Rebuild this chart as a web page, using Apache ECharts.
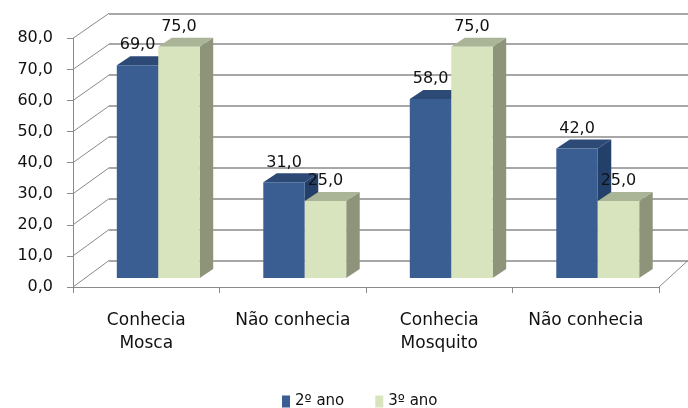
<!DOCTYPE html>
<html>
<head>
<meta charset="utf-8">
<script src="https://cdn.jsdelivr.net/npm/echarts@6/dist/echarts.min.js"></script>
<style>
  html, body { margin: 0; padding: 0; background: #fff; }
  #chart { width: 688px; height: 408px; }
</style>
</head>
<body>
<div id="chart"></div>
<script>
// Categories and values per school year
const CATEGORIES = ['Conhecia\nMosca', 'Não conhecia', 'Conhecia\nMosquito', 'Não conhecia'];
const SERIES_NAMES = ['2º ano', '3º ano'];
const VALUES_2ANO = [69.0, 31.0, 58.0, 42.0];
const VALUES_3ANO = [75.0, 25.0, 75.0, 25.0];
const Y_TICKS = [0, 10, 20, 30, 40, 50, 60, 70, 80];

// Pseudo-3D look: depth offset of the columns and face colours
const DEPTH = [13.5, -9];
const BAR_FRAC = 0.283;
const FACE = [
  { front: '#3a5e91', top: '#2c4a75', side: '#23406a' },
  { front: '#d8e4bd', top: '#a9b596', side: '#8d947a' }
];
const FONT = 'DejaVu Sans';
const GRID_COLOR = '#8a8a8a';

const fmt = v => v.toFixed(1).replace('.', ',');

function columnRenderer(side) {
  return function (params, api) {
    const ci = api.value(0);
    const v = api.value(1);
    const base = api.coord([ci, 0]);
    const top = api.coord([ci, v]);
    const band = api.size([1, 0])[0];
    const w = band * BAR_FRAC;
    const x0 = side === 0 ? base[0] - w : base[0];
    const x1 = x0 + w;
    const yT = top[1], yB = base[1];
    const dx = DEPTH[0], dy = DEPTH[1];
    const c = FACE[side];
    return {
      type: 'group',
      children: [
        { type: 'polygon', shape: { points: [[x1, yT], [x1 + dx, yT + dy], [x1 + dx, yB + dy], [x1, yB]] },
          style: { fill: c.side } },
        { type: 'polygon', shape: { points: [[x0, yT], [x1, yT], [x1 + dx, yT + dy], [x0 + dx, yT + dy]] },
          style: { fill: c.top } },
        { type: 'rect', shape: { x: x0, y: yT, width: w, height: yB - yT },
          style: { fill: c.front } },
        { type: 'text', x: (x0 + x1) / 2, y: yT - 20,
          style: { text: fmt(v), fill: '#111', font: '16px "' + FONT + '"',
                   align: 'center', verticalAlign: 'middle' } }
      ]
    };
  };
}

const chart = echarts.init(document.getElementById('chart'), null, { renderer: 'canvas' });

const option = {
  animation: false,
  backgroundColor: '#fff',
  textStyle: { fontFamily: FONT },
  legend: {
    data: SERIES_NAMES,
    left: 277, top: 389,
    icon: 'rect', itemWidth: 8, itemHeight: 12, itemGap: 31,
    textStyle: { fontFamily: FONT, fontSize: 15, color: '#111' }
  },
  grid: [
    // front plane: axes and labels
    { left: 73, right: 29, top: 38.3, bottom: 121 },
    // column front faces
    { left: 85, right: 17, top: 31.2, bottom: 130 },
    // back wall
    { left: 109, right: -7, top: 13.3, bottom: 147.5 }
  ],
  xAxis: [
    { type: 'category', gridIndex: 0, data: CATEGORIES, boundaryGap: true,
      axisLine: { show: true, lineStyle: { color: GRID_COLOR, width: 1 } },
      axisTick: { show: true, length: 6, lineStyle: { color: GRID_COLOR } },
      axisLabel: { fontFamily: FONT, fontSize: 17, lineHeight: 23, color: '#111', margin: 22, interval: 0 },
      splitLine: { show: false } },
    { type: 'category', gridIndex: 1, data: CATEGORIES, show: false },
    { type: 'category', gridIndex: 2, data: CATEGORIES, show: false }
  ],
  yAxis: [
    { type: 'value', gridIndex: 0, min: 0, max: 80, interval: 10,
      axisLine: { show: true, lineStyle: { color: GRID_COLOR, width: 1 } },
      axisTick: { show: true, length: 6, lineStyle: { color: GRID_COLOR } },
      axisLabel: { fontFamily: FONT, fontSize: 16, color: '#111', margin: 20, formatter: v => fmt(v) },
      splitLine: { show: false } },
    { type: 'value', gridIndex: 1, min: 0, max: 80, interval: 10, show: false, splitLine: { show: false } },
    { type: 'value', gridIndex: 2, min: 0, max: 80, interval: 10,
      axisLine: { show: false }, axisTick: { show: false }, axisLabel: { show: false },
      splitLine: { show: true, lineStyle: { color: GRID_COLOR, width: 1.5 } } }
  ],
  series: [
    { name: SERIES_NAMES[0], type: 'custom', xAxisIndex: 1, yAxisIndex: 1,
      itemStyle: { color: FACE[0].front }, z: 3,
      renderItem: columnRenderer(0),
      data: VALUES_2ANO.map((v, i) => [i, v]) },
    { name: SERIES_NAMES[1], type: 'custom', xAxisIndex: 1, yAxisIndex: 1,
      itemStyle: { color: FACE[1].front }, z: 3,
      renderItem: columnRenderer(1),
      data: VALUES_3ANO.map((v, i) => [i, v]) }
  ]
};

chart.setOption(option);

// Left wall and floor edges joining the front plane to the back wall
function edgeX(axisIndex, which) {
  const a = chart.convertToPixel({ xAxisIndex: axisIndex }, 0);
  const b = chart.convertToPixel({ xAxisIndex: axisIndex }, 1);
  const band = b - a;
  if (which === 'left') return a - band / 2;
  return chart.convertToPixel({ xAxisIndex: axisIndex }, CATEGORIES.length - 1) + band / 2;
}
const lines = [];
const xFL = edgeX(0, 'left'), xBL = edgeX(2, 'left');
Y_TICKS.forEach(v => {
  const yF = chart.convertToPixel({ yAxisIndex: 0 }, v);
  const yB = chart.convertToPixel({ yAxisIndex: 2 }, v);
  lines.push({ type: 'line', z: 1, shape: { x1: xFL, y1: yF, x2: xBL, y2: yB },
               style: { stroke: GRID_COLOR, lineWidth: 1 } });
});
const xFR = edgeX(0, 'right'), xBR = edgeX(2, 'right');
lines.push({ type: 'line', z: 1,
  shape: { x1: xFR, y1: chart.convertToPixel({ yAxisIndex: 0 }, 0),
           x2: xBR, y2: chart.convertToPixel({ yAxisIndex: 2 }, 0) },
  style: { stroke: GRID_COLOR, lineWidth: 1 } });
chart.setOption({ graphic: lines });
</script>
</body>
</html>
